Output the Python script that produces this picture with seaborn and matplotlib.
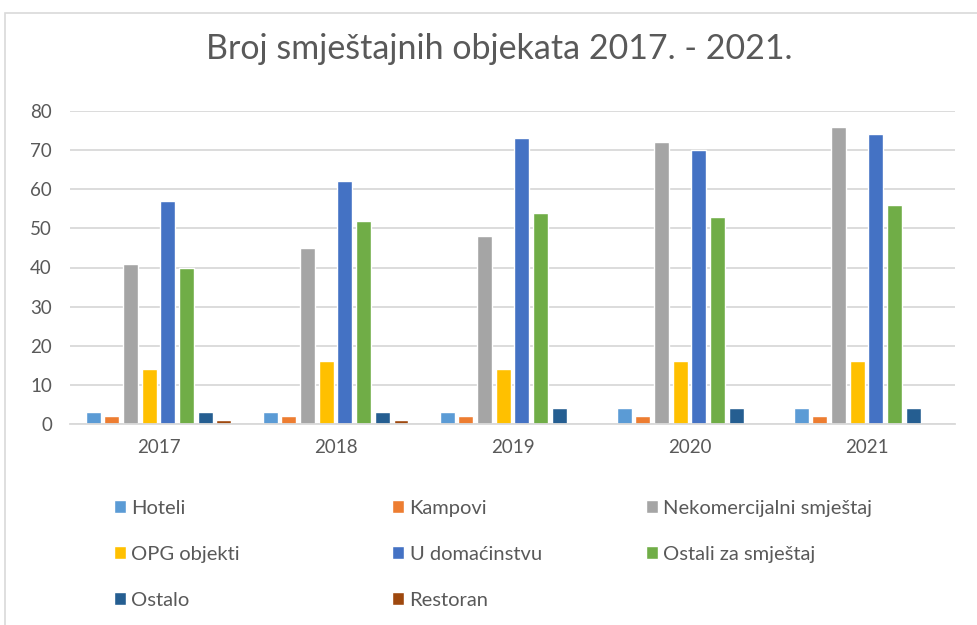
import matplotlib
matplotlib.use("Agg")
import matplotlib.pyplot as plt
import matplotlib.patches as patches
import pandas as pd
import seaborn as sns


# ---- Data ----------------------------------------------------####

years = ["2017", "2018", "2019", "2020", "2021"]
hoteli = [3, 3, 3, 4, 4]
kampovi = [2, 2, 2, 2, 2]
nekomercijalni = [41, 45, 48, 72, 76]
opg_objekti = [14, 16, 14, 16, 16]
u_domacinstvu = [57, 62, 73, 70, 74]
ostali_za_smjestaj = [40, 52, 54, 53, 56]
ostalo = [3, 3, 4, 4, 4]
restoran = [1, 1, 0, 0, 0]

series_names = ["Hoteli", "Kampovi", "Nekomercijalni smještaj", "OPG objekti",
                "U domaćinstvu", "Ostali za smještaj", "Ostalo", "Restoran"]
series_values = [hoteli, kampovi, nekomercijalni, opg_objekti,
                 u_domacinstvu, ostali_za_smjestaj, ostalo, restoran]
colors = ["#5B9BD5", "#ED7D31", "#A5A5A5", "#FFC000",
          "#4472C4", "#70AD47", "#255E91", "#9E480E"]


# ---- Reshape -------------------------------------------------####

rows = []
for name, vals in zip(series_names, series_values):
    for yr, v in zip(years, vals):
        rows.append({"year": yr, "type": name, "count": v})
df = pd.DataFrame(rows)


# ---- Plot ----------------------------------------------------####

sns.set_style("white")
plt.rcParams["font.family"] = ["Lato", "DejaVu Sans"]

fig = plt.figure(figsize=(9.78, 6.25), dpi=100)
ax = fig.add_axes([0.0716, 0.3216, 0.905, 0.5008])

sns.barplot(data=df, x="year", y="count", hue="type", hue_order=series_names,
            palette=colors, width=0.845, gap=0.2, ax=ax, saturation=1)

ax.set_ylim(0, 80)
ax.set_xlim(-0.5, 4.5)
ax.set_yticks(range(0, 81, 10))
ax.yaxis.grid(True, color="#D9D9D9", linewidth=1.3)
ax.set_axisbelow(True)
ax.set_xlabel("")
ax.set_ylabel("")
for s in ["top", "right", "left"]:
    ax.spines[s].set_visible(False)
ax.spines["bottom"].set_color("#D9D9D9")
ax.spines["bottom"].set_linewidth(1.3)
ax.tick_params(axis="both", length=0, labelsize=13.5, colors="#595959")
ax.tick_params(axis="y", pad=13)
ax.tick_params(axis="x", pad=11)

# legend in three columns, placed separately
handles, labels = ax.get_legend_handles_labels()
ax.get_legend().remove()
lookup = dict(zip(labels, handles))
columns = [["Hoteli", "OPG objekti", "Ostalo"],
           ["Kampovi", "U domaćinstvu", "Restoran"],
           ["Nekomercijalni smještaj", "Ostali za smještaj"]]
col_x = [0.108, 0.393, 0.652]
for cx, col in zip(col_x, columns):
    fig.legend([lookup[c] for c in col], col, loc="upper left",
               bbox_to_anchor=(cx, 0.213), frameon=False, fontsize=14.5,
               handlelength=0.6, handleheight=0.6, handletextpad=0.25,
               labelspacing=1.43, labelcolor="#595959", borderaxespad=0)

# title
fig.text(0.51, 0.922, "Broj smještajnih objekata 2017. - 2021.",
         ha="center", va="center", fontsize=24.5, color="#595959")

# chart border
fig.patches.append(patches.Rectangle((0.005, -0.1), 1.2, 1.08, transform=fig.transFigure,
                                     fill=False, edgecolor="#D9D9D9", linewidth=1.2))

fig.savefig("out.png", dpi=100)
